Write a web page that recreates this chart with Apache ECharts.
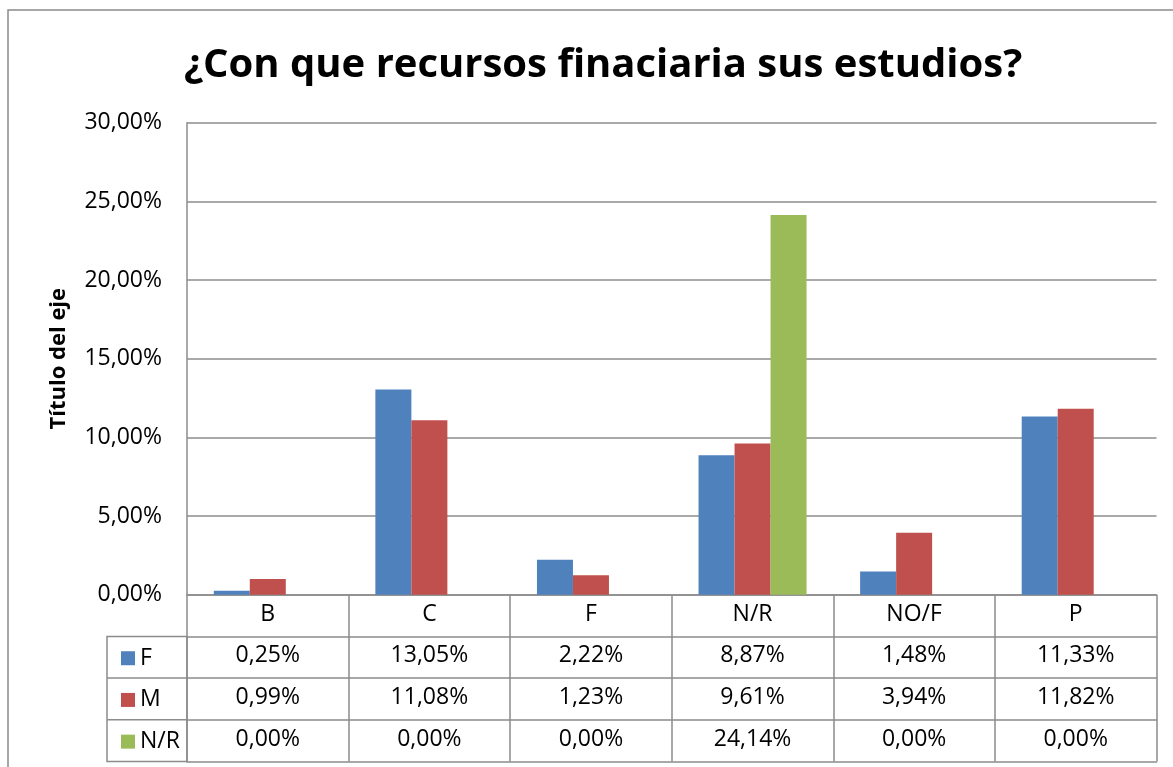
<!DOCTYPE html>
<html>
<head>
<meta charset="utf-8">
<script src="https://cdn.jsdelivr.net/npm/echarts@6/dist/echarts.min.js"></script>
<style>
  html, body { margin: 0; padding: 0; background: #fff; }
  #chart { width: 1173px; height: 767px; }
</style>
</head>
<body>
<div id="chart"></div>
<script>
const categories = ['B', 'C', 'F', 'N/R', 'NO/F', 'P']
const seriesNames = ['F', 'M', 'N/R']
const valuesF = [0.25, 13.05, 2.22, 8.87, 1.48, 11.33]
const valuesM = [0.99, 11.08, 1.23, 9.61, 3.94, 11.82]
const valuesNR = [0, 0, 0, 24.14, 0, 0]
const colors = ['#4f81bd', '#c0504d', '#9bbb59']

const FONT = 'Open Sans'
const FONT_SIZE = 23
const GRID_COLOR = '#8c8c8c'
const ROW_H = 41.7
const GRID_BOTTOM = 172.3

// formato 0,25%
const pct = (v) => v.toFixed(2).replace('.', ',') + '%'

const rows = [valuesF, valuesM, valuesNR]

// eje x por fila de la tabla
const tableAxis = (offset, labels) => ({
	type: 'category',
	data: categories,
	position: 'bottom',
	offset: offset,
	axisLine: { show: true, lineStyle: { color: GRID_COLOR, width: 1.5 } },
	axisTick: {
		show: labels !== null,
		length: ROW_H,
		interval: 0,
		alignWithLabel: false,
		lineStyle: { color: GRID_COLOR, width: 1.5 }
	},
	axisLabel: {
		show: labels !== null,
		interval: 0,
		margin: 8,
		color: '#000',
		fontFamily: FONT,
		fontSize: FONT_SIZE,
		formatter: (value, index) => (labels ? labels(value, index) : '')
	}
})

const xAxes = [
	tableAxis(0, (value) => value),
	...rows.map((row, r) => tableAxis(ROW_H * (r + 1), (value, index) => pct(row[index]))),
	tableAxis(ROW_H * 4, null)
]

const chart = echarts.init(document.getElementById('chart'))

const rowTop = 767 - GRID_BOTTOM + ROW_H

chart.setOption({
	animation: false,
	color: colors,
	title: {
		text: '¿Con que recursos finaciaria sus estudios?',
		left: 179,
		top: 41,
		textStyle: { fontFamily: FONT, fontSize: 40, fontWeight: 'bold', color: '#000' }
	},
	legend: {
		orient: 'vertical',
		left: 116,
		top: rowTop + ROW_H / 2 - 16,
		itemWidth: 14,
		itemHeight: 14,
		itemGap: ROW_H - 24,
		icon: 'rect',
		data: seriesNames,
		textStyle: { fontFamily: FONT, fontSize: FONT_SIZE, lineHeight: 24, color: '#000' }
	},
	grid: { left: 187, right: 16.5, top: 122.7, bottom: GRID_BOTTOM, containLabel: false },
	xAxis: xAxes,
	yAxis: {
		type: 'value',
		min: 0,
		max: 30,
		interval: 5,
		name: 'Título del eje',
		nameLocation: 'middle',
		nameRotate: 90,
		nameGap: 117,
		nameTextStyle: { fontFamily: FONT, fontSize: 22, fontWeight: 'bold', color: '#000' },
		axisLine: { show: true, lineStyle: { color: GRID_COLOR, width: 1.5 } },
		axisTick: { show: false },
		splitLine: { lineStyle: { color: GRID_COLOR, width: 1.5 } },
		axisLabel: {
			margin: 25,
			color: '#000',
			fontFamily: FONT,
			fontSize: FONT_SIZE,
			formatter: (v) => pct(v)
		}
	},
	series: [valuesF, valuesM, valuesNR].map((data, i) => ({
		name: seriesNames[i],
		type: 'bar',
		xAxisIndex: 0,
		barWidth: 36,
		barGap: '0%',
		data: data
	})),
	graphic: [
		// borde exterior del gráfico
		{
			type: 'rect',
			shape: { x: 8, y: 10, width: 1200, height: 800 },
			style: { fill: null, stroke: '#8a8a8a', lineWidth: 1.5 },
			silent: true
		},
		// columna de leyenda de la tabla
		{
			type: 'rect',
			shape: { x: 107, y: rowTop, width: 80, height: ROW_H * 3 },
			style: { fill: null, stroke: GRID_COLOR, lineWidth: 1.5 },
			silent: true
		},
		{
			type: 'line',
			shape: { x1: 107, y1: rowTop + ROW_H, x2: 187, y2: rowTop + ROW_H },
			style: { stroke: GRID_COLOR, lineWidth: 1.5 },
			silent: true
		},
		{
			type: 'line',
			shape: { x1: 107, y1: rowTop + ROW_H * 2, x2: 187, y2: rowTop + ROW_H * 2 },
			style: { stroke: GRID_COLOR, lineWidth: 1.5 },
			silent: true
		}
	]
})
</script>
</body>
</html>
